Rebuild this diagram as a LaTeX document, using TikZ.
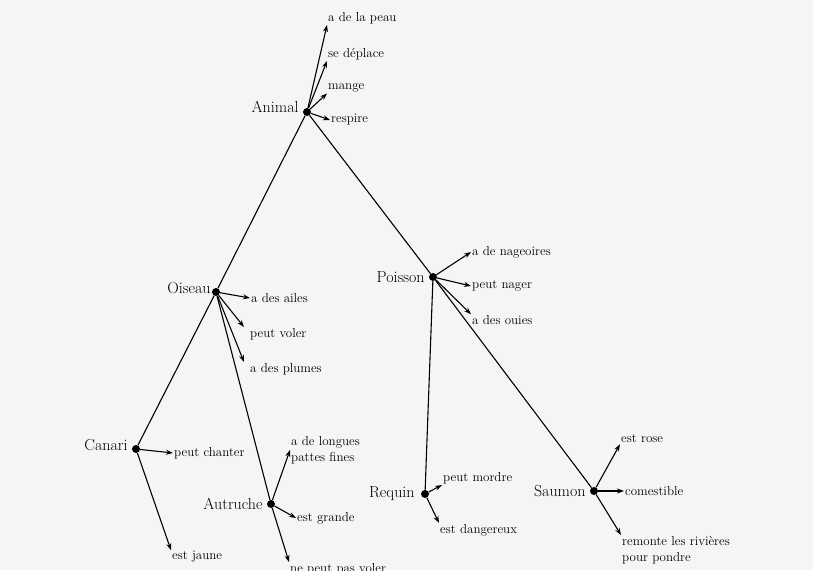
\documentclass[tikz,border=0pt]{standalone}
\usepackage{tikz}
\usetikzlibrary{arrows.meta}
\usetikzlibrary{positioning}

\definecolor{paper}{gray}{0.96}

\tikzstyle{dot} = [circle, fill=black, minimum size=8pt, inner sep=0pt]
\tikzstyle{kind} = [inner sep=1pt, font=\fontsize{16}{18}\selectfont]
\tikzstyle{prop} = [anchor=west, inner sep=1pt, align=left, font=\fontsize{13}{16}\selectfont]
\tikzstyle{link} = [line width=1.1pt]
\tikzstyle{arrow} = [line width=1.1pt, -{Stealth[length=7pt, width=5pt]}]

\begin{document}
\begin{tikzpicture}[x=1pt, y=-1pt, node distance=3pt]

    \useasboundingbox (0,0) rectangle (813,570);
    \fill [paper] (0,0) rectangle (813,570);

    % categories
    \node (animal) [dot] at (307,112) {};
    \node (oiseau) [dot] at (216,292) {};
    \node (poisson) [dot] at (433,277) {};
    \node (canari) [dot] at (136,449) {};
    \node (autruche) [dot] at (271,504) {};
    \node (requin) [dot] at (425,494) {};
    \node (saumon) [dot] at (594,491) {};

    \node (animaltxt) [kind, left=of animal, yshift=5pt] {Animal};
    \node (oiseautxt) [kind, left=0pt of oiseau, yshift=4pt] {Oiseau};
    \node (poissontxt) [kind, left=of poisson] {Poisson};
    \node (canaritxt) [kind, left=of canari, yshift=4pt] {Canari};
    \node (autruchetxt) [kind, left=of autruche] {Autruche};
    \node (requintxt) [kind, left=5pt of requin] {Requin};
    \node (saumontxt) [kind, left=of saumon] {Saumon};

    % properties
    \node (peau) [prop] at (327,18) {a de la peau};
    \node (deplace) [prop] at (327,54) {se déplace};
    \node (mange) [prop] at (327,88) {mange};
    \node (respire) [prop] at (330,120) {respire};

    \node (ailes) [prop] at (250,298) {a des ailes};
    \node (voler) [prop] at (249,334) {peut voler};
    \node (plumes) [prop] at (249,369) {a des plumes};

    \node (nageoires) [prop] at (471,252) {a de nageoires};
    \node (nager) [prop] at (471,286) {peut nager};
    \node (ouies) [prop] at (471,320) {a des ouies};

    \node (chanter) [prop] at (173,453) {peut chanter};
    \node (jaune) [prop] at (171,557) {est jaune};

    \node (longues) [prop] at (290,450) {a de longues\\pattes fines};
    \node (grande) [prop] at (296,518) {est grande};
    \node (nepeut) [prop] at (289,569) {ne peut pas voler};

    \node (mordre) [prop] at (442,478) {peut mordre};
    \node (dangereux) [prop] at (439,530) {est dangereux};

    \node (rose) [prop] at (620,439) {est rose};
    \node (comestible) [prop] at (624,491) {comestible};
    \node (remonte) [prop] at (621,550) {remonte les rivières\\pour pondre};

    % tree
    \draw [link] (animal) -- (oiseau);
    \draw [link] (animal) -- (poisson);
    \draw [link] (oiseau) -- (canari);
    \draw [link] (oiseau) -- (autruche);
    \draw [link] (poisson) -- (requin);
    \draw [link] (poisson) -- (saumon);

    \draw [arrow] (animal) -- (peau.south west);
    \draw [arrow] (animal) -- (deplace.south west);
    \draw [arrow] (animal) -- (mange.south west);
    \draw [arrow] (animal) -- (respire.west);

    \draw [arrow] (oiseau) -- (ailes.west);
    \draw [arrow] (oiseau) -- ([xshift=-5pt]voler.north west);
    \draw [arrow] (oiseau) -- ([xshift=-5pt]plumes.north west);

    \draw [arrow] (poisson) -- (nageoires.west);
    \draw [arrow] (poisson) -- (nager.west);
    \draw [arrow] (poisson) -- (ouies.north west);

    \draw [arrow] (canari) -- (chanter.west);
    \draw [arrow] (canari) -- (jaune.north west);

    \draw [arrow] (autruche) -- (longues.west);
    \draw [arrow] (autruche) -- (grande.west);
    \draw [arrow] (autruche) -- (nepeut.north west);

    \draw [arrow] (requin) -- (mordre.south west);
    \draw [arrow] (requin) -- (dangereux.north west);

    \draw [arrow] (saumon) -- (rose.south west);
    \draw [arrow] (saumon) -- (comestible.west);
    \draw [arrow] (saumon) -- (remonte.north west);

\end{tikzpicture}
\end{document}
